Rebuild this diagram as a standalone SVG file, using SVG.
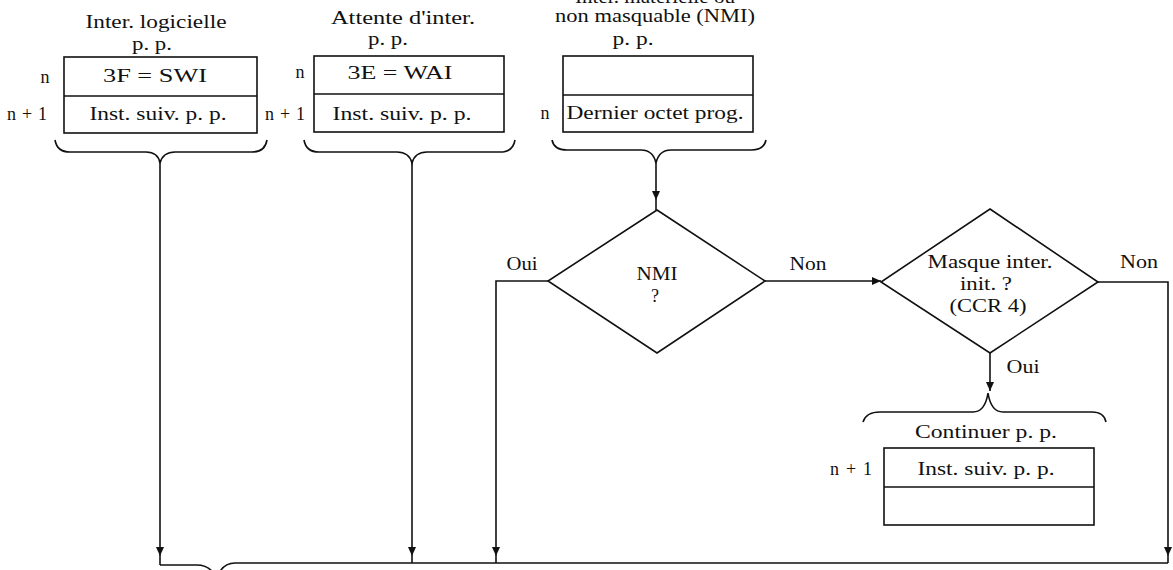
<svg xmlns="http://www.w3.org/2000/svg" width="1173" height="570" viewBox="0 0 1173 570">
  <style>
    .bg { fill: #ffffff; }
    .ln { fill: none; stroke: #111; stroke-width: 1.6; stroke-linejoin: miter; }
    .box { fill: #ffffff; stroke: #111; stroke-width: 1.6; }
    text { font-family: "Liberation Serif", "Times New Roman", serif; font-size: 18px; fill: #111; text-anchor: middle; }
  </style>
  <defs>
    <marker id="arrow" viewBox="0 0 9 8" refX="9" refY="4" markerWidth="9" markerHeight="8" markerUnits="userSpaceOnUse" orient="auto">
      <path d="M0,0 L9,4 L0,8 z" fill="#111"/>
    </marker>
  </defs>
  <rect class="bg" x="0" y="0" width="1173" height="570"/>

  <!-- connectors -->
  <g id="connectors">
    <!-- software interrupt branch -->
    <path class="ln" d="M160,163 V556" marker-end="url(#arrow)"/>
    <path class="ln" d="M160,556 V565"/>
    <!-- wait branch -->
    <path class="ln" d="M412,163 V556" marker-end="url(#arrow)"/>
    <path class="ln" d="M412,556 V563"/>
    <!-- into NMI decision -->
    <path class="ln" d="M656,163 V200" marker-end="url(#arrow)"/>
    <path class="ln" d="M656,200 V210"/>
    <!-- NMI yes -->
    <path class="ln" d="M548,281 H496 V556" marker-end="url(#arrow)"/>
    <path class="ln" d="M496,556 V563"/>
    <!-- NMI no -->
    <path class="ln" d="M765,281 H881" marker-end="url(#arrow)"/>
    <!-- mask no -->
    <path class="ln" d="M1098,282 H1168 V556" marker-end="url(#arrow)"/>
    <path class="ln" d="M1168,556 V563"/>
    <!-- mask yes -->
    <path class="ln" d="M990,353 V391" marker-end="url(#arrow)"/>
    <!-- common bottom brace -->
    <path class="ln" d="M160,565 H197 Q210,565 217,578 Q222,563 235,563 H1168"/>
  </g>

  <!-- software interrupt -->
  <g id="node-swi">
    <text x="156" y="28" textLength="141" lengthAdjust="spacingAndGlyphs">Inter. logicielle</text>
    <text x="152" y="50" textLength="40" lengthAdjust="spacingAndGlyphs">p. p.</text>
    <rect class="box" x="64" y="57" width="193" height="76"/>
    <line class="ln" x1="64" y1="96" x2="257" y2="96"/>
    <text x="155" y="82" textLength="104" lengthAdjust="spacingAndGlyphs">3F = SWI</text>
    <text x="158" y="120" textLength="137" lengthAdjust="spacingAndGlyphs">Inst. suiv. p. p.</text>
    <text x="45" y="83">n</text>
    <text x="27" y="120" textLength="40" lengthAdjust="spacing">n + 1</text>
    <path class="ln" d="M55,140 Q57,152 70,152 H146 Q158,152 160,163 Q163,152 175,152 H252 Q265,152 267,140"/>
  </g>

  <!-- wait for interrupt -->
  <g id="node-wai">
    <text x="403" y="24" textLength="144" lengthAdjust="spacingAndGlyphs">Attente d'inter.</text>
    <text x="388" y="45" textLength="40" lengthAdjust="spacingAndGlyphs">p. p.</text>
    <rect class="box" x="314" y="56" width="190" height="76"/>
    <line class="ln" x1="314" y1="94" x2="504" y2="94"/>
    <text x="400" y="79" textLength="105" lengthAdjust="spacingAndGlyphs">3E = WAI</text>
    <text x="402" y="120" textLength="139" lengthAdjust="spacingAndGlyphs">Inst. suiv. p. p.</text>
    <text x="300" y="78">n</text>
    <text x="285" y="120" textLength="40" lengthAdjust="spacing">n + 1</text>
    <path class="ln" d="M304,140 Q306,152 319,152 H397 Q409,152 412,163 Q415,152 427,152 H500 Q513,152 515,140"/>
  </g>

  <!-- hardware / non-maskable interrupt -->
  <g id="node-nmi-source">
    <text x="655" y="3" textLength="160" lengthAdjust="spacingAndGlyphs">Inter. matérielle ou</text>
    <text x="655" y="22" textLength="200" lengthAdjust="spacingAndGlyphs">non masquable (NMI)</text>
    <text x="633" y="45" textLength="41" lengthAdjust="spacingAndGlyphs">p. p.</text>
    <rect class="box" x="563" y="56" width="190" height="76"/>
    <line class="ln" x1="563" y1="95" x2="753" y2="95"/>
    <text x="655" y="119" textLength="177" lengthAdjust="spacingAndGlyphs">Dernier octet prog.</text>
    <text x="545" y="119">n</text>
    <path class="ln" d="M552,140 Q554,150 567,150 H641 Q653,150 656,163 Q659,150 671,150 H751 Q764,150 766,140"/>
  </g>

  <!-- NMI decision -->
  <g id="node-nmi-test">
    <polygon class="box" points="657,210 765,281 657,353 548,281"/>
    <text x="657" y="280" textLength="41" lengthAdjust="spacingAndGlyphs">NMI</text>
    <text x="655" y="302">?</text>
    <text x="522" y="270" textLength="31" lengthAdjust="spacingAndGlyphs">Oui</text>
    <text x="808" y="270" textLength="37" lengthAdjust="spacingAndGlyphs">Non</text>
  </g>

  <!-- interrupt mask decision -->
  <g id="node-mask-test">
    <polygon class="box" points="990,209 1098,282 990,353 881,282"/>
    <text x="990" y="268" textLength="125" lengthAdjust="spacingAndGlyphs">Masque inter.</text>
    <text x="986" y="290" textLength="52" lengthAdjust="spacingAndGlyphs">init. ?</text>
    <text x="988" y="312" textLength="77" lengthAdjust="spacingAndGlyphs">(CCR 4)</text>
    <text x="1139" y="268" textLength="38" lengthAdjust="spacingAndGlyphs">Non</text>
    <text x="1023" y="373" textLength="33" lengthAdjust="spacingAndGlyphs">Oui</text>
  </g>

  <!-- continue main program -->
  <g id="node-continue">
    <path class="ln" d="M863,422 Q866,412 880,412 H973 Q985,412 988,393 Q991,412 1003,412 H1092 Q1104,412 1106,422"/>
    <text x="986" y="438" textLength="142" lengthAdjust="spacingAndGlyphs">Continuer p. p.</text>
    <rect class="box" x="884" y="448" width="210" height="77"/>
    <line class="ln" x1="884" y1="487" x2="1094" y2="487"/>
    <text x="986" y="475" textLength="137" lengthAdjust="spacingAndGlyphs">Inst. suiv. p. p.</text>
    <text x="851" y="475" textLength="42" lengthAdjust="spacing">n + 1</text>
  </g>
</svg>
